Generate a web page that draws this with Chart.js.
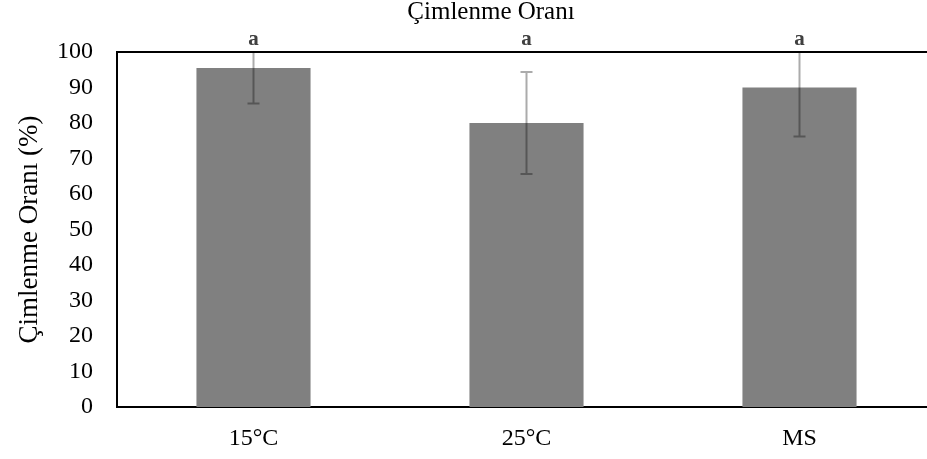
<!DOCTYPE html>
<html>
<head>
<meta charset="utf-8">
<script src="https://cdn.jsdelivr.net/npm/chart.js@4.4.0/dist/chart.umd.min.js"></script>
<style>
html,body{margin:0;padding:0;background:#fff;overflow:hidden;}
#wrap{width:937px;height:459px;position:relative;}
</style>
</head>
<body>
<div id="wrap"><canvas id="c" width="937" height="459"></canvas></div>
<script>
const chartTitle = "Çimlenme Oranı";
const yAxisTitle = "Çimlenme Oranı (%)";
const categories = ["15°C", "25°C", "MS"];
const values = [95.5, 80, 90];
const errors = [10, 14.4, 13.8];
const letters = ["a", "a", "a"];
const yTicks = [0, 10, 20, 30, 40, 50, 60, 70, 80, 90, 100];

const FONT = "'Liberation Serif','Times New Roman',serif";

const extras = {
  id: 'extras',
  afterDatasetsDraw(chart) {
    const ctx = chart.ctx;
    const ca = chart.chartArea;
    const xs = chart.scales.x, ys = chart.scales.y;
    // error bars
    ctx.save();
    ctx.beginPath();
    ctx.rect(ca.left, ca.top, ca.right - ca.left, ca.bottom - ca.top);
    ctx.clip();
    ctx.strokeStyle = 'rgba(0,0,0,0.33)';
    ctx.lineWidth = 2;
    values.forEach((v, i) => {
      const x = xs.getPixelForValue(i);
      const yHi = ys.getPixelForValue(v + errors[i]);
      const yLo = ys.getPixelForValue(v - errors[i]);
      ctx.beginPath();
      ctx.moveTo(x, yHi); ctx.lineTo(x, yLo);
      ctx.moveTo(x - 6, yHi); ctx.lineTo(x + 6, yHi);
      ctx.moveTo(x - 6, yLo); ctx.lineTo(x + 6, yLo);
      ctx.stroke();
    });
    ctx.restore();
    // top frame line
    ctx.save();
    ctx.strokeStyle = '#000';
    ctx.lineWidth = 2;
    ctx.beginPath();
    ctx.moveTo(ca.left - 1, ca.top);
    ctx.lineTo(ca.right + 2, ca.top);
    ctx.stroke();
    // letters
    ctx.fillStyle = '#404040';
    ctx.font = "bold 21px " + FONT;
    ctx.textAlign = 'center';
    ctx.textBaseline = 'alphabetic';
    letters.forEach((t, i) => {
      ctx.fillText(t, xs.getPixelForValue(i), ca.top - 7);
    });
    // title
    ctx.fillStyle = '#000';
    ctx.font = "25px " + FONT;
    ctx.textBaseline = 'alphabetic';
    ctx.fillText(chartTitle, 491, 19);
    ctx.restore();
  }
};

new Chart(document.getElementById('c'), {
  type: 'bar',
  data: {
    labels: categories,
    datasets: [{
      data: values,
      backgroundColor: '#808080',
      borderWidth: 0,
      barPercentage: 0.418,
      categoryPercentage: 1.0
    }]
  },
  options: {
    responsive: false,
    animation: false,
    layout: { padding: { top: 52, left: 0, right: 1, bottom: 0 } },
    plugins: { legend: { display: false }, tooltip: { enabled: false }, title: { display: false } },
    scales: {
      x: {
        grid: { display: false, drawTicks: false },
        border: { color: '#000', width: 2 },
        ticks: { color: '#000', font: { family: FONT, size: 24 }, padding: 17 },
        afterFit(s) { s.height = 52; }
      },
      y: {
        min: 0, max: 100,
        afterBuildTicks(axis) { axis.ticks = yTicks.map(v => ({ value: v })); },
        grid: { display: false, drawTicks: false },
        border: { color: '#000', width: 2 },
        ticks: { color: '#000', font: { family: FONT, size: 24 }, padding: 24 },
        title: { display: true, text: yAxisTitle, color: '#000', font: { family: FONT, size: 27 }, padding: { top: 14, bottom: 0 } },
        afterFit(s) { s.width = 117; }
      }
    }
  },
  plugins: [extras]
});
</script>
</body>
</html>
